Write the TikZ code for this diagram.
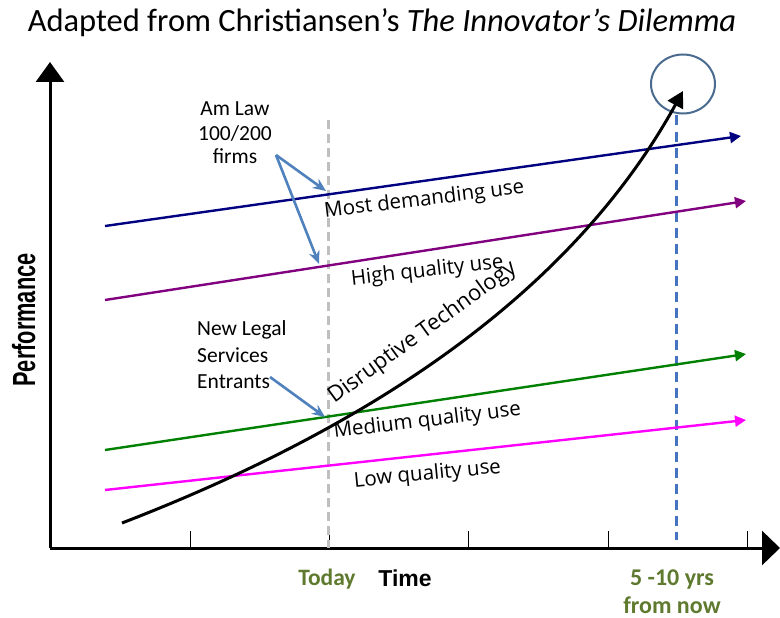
\documentclass[tikz,border=0pt]{standalone}
\usepackage{fontspec}
\setmainfont{Carlito}
\newfontfamily\lblfont{Open Sans}
\newfontfamily\arialfont{Liberation Sans}
\usetikzlibrary{arrows.meta,shapes.geometric}
\definecolor{arrblue}{HTML}{4F81BD}
\definecolor{dashblue}{HTML}{4573BF}
\definecolor{circblue}{HTML}{4A6A90}
\definecolor{olive}{HTML}{5F7A2F}
\definecolor{dgray}{HTML}{BFBFBF}
\begin{document}
\begin{tikzpicture}[x=1pt,y=-1pt,
  useline/.style={line width=2.4pt,-{Triangle[length=11pt,width=11pt]}},
  uselabel/.style={font=\lblfont\fontsize{20.5}{22}\selectfont,anchor=base,inner sep=0pt},
  callout/.style={draw=arrblue,line width=2.6pt,-{Stealth[length=13pt,width=11pt]}},
  calltext/.style={font=\fontsize{21.5}{24}\selectfont,anchor=base,inner sep=0pt},
  axis/.style={line width=3pt},
  tick/.style={line width=1pt},
  xlab/.style={font=\bfseries\fontsize{24}{26}\selectfont,text=olive,anchor=base,inner sep=0pt}
]
\useasboundingbox (0,0) rectangle (780,618);
% title
\node[anchor=base,inner sep=0pt] (title) at (382,32) {\fontsize{32.5}{34}\selectfont Adapted from Christiansen's \textit{The Innovator's Dilemma}};
% axes
\coordinate (O) at (50,548);
\coordinate (ytop) at (50,62);
\coordinate (xend) at (780,548);
\draw[axis,-{Triangle[length=20pt,width=28pt]}] (O) -- (ytop);
\draw[axis,-{Triangle[length=18pt,width=34pt]}] (O) -- (xend);
\foreach \x in {190,329,468,608,747}{
  \draw[tick] (\x,548) -- (\x,531);
}
% vertical dashed lines
\coordinate (today1) at (328,120);
\coordinate (today0) at (328,548);
\draw[dgray,line width=3pt,dash pattern=on 9pt off 5pt] (today1) -- (today0);
% circle
\node[draw=circblue,line width=2pt,ellipse,minimum width=64pt,minimum height=59pt,inner sep=0pt] (circ) at (683,84) {};
\coordinate (fut0) at (676,540);
\draw[dashblue,line width=3pt,dash pattern=on 10pt off 6pt] (circ.south) ++(-7,1) coordinate (fut1) -- (fut0);
% use lines
\coordinate (n0) at (105,226); \coordinate (n1) at (741,136);
\coordinate (p0) at (105,300); \coordinate (p1) at (746,201);
\coordinate (g0) at (105,450); \coordinate (g1) at (746,354);
\coordinate (m0) at (105,490); \coordinate (m1) at (746,420);
\draw[useline,color={rgb,255:red,0;green,0;blue,128}] (n0) -- (n1);
\draw[useline,color={rgb,255:red,128;green,0;blue,128}] (p0) -- (p1);
\draw[useline,color={rgb,255:red,0;green,128;blue,0}] (g0) -- (g1);
\draw[useline,color={rgb,255:red,255;green,0;blue,255}] (m0) -- (m1);
% labels on lines
\node[uselabel,rotate=7] (lmost) at (425,205.5) {Most demanding use};
\node[uselabel,rotate=6.4] (lhigh) at (428,276.5) {High quality use};
\node[uselabel,rotate=7] (lmed) at (428,426.5) {Medium quality use};
\node[uselabel,rotate=5.5] (llow) at (428,480) {Low quality use};
% disruptive curve
\coordinate (d0) at (122,523);
\coordinate (d1) at (683,91);
\draw[line width=3pt,-{Triangle[length=16pt,width=17pt]}] (d0) .. controls (350,435) and (565,305) .. (d1);
\node[uselabel,font=\lblfont\fontsize{22}{24}\selectfont,rotate=36] (ldis) at (426,337.5) {Disruptive Technology};
% callouts
\node[calltext] (amlaw1) at (235,115) {Am Law};
\node[calltext] (amlaw2) at (235,140) {100/200};
\node[calltext] (amlaw3) at (235,164) {firms};
\coordinate (aml) at (276,155);
\coordinate (amt1) at (326,191);
\coordinate (amt2) at (319,264);
\draw[callout] (aml) -- (amt1);
\draw[callout] (aml) -- (amt2);
\node[calltext,anchor=base west] (nls1) at (197,335) {New Legal};
\node[calltext,anchor=base west] (nls2) at (197,362) {Services};
\node[calltext,anchor=base west] (nls3) at (197,388) {Entrants};
\coordinate (nlsa) at (270,377);
\coordinate (nlst) at (325,417);
\draw[callout] (nlsa) -- (nlst);
% axis labels
\node[rotate=90,anchor=base,inner sep=0pt] (perf) at (35,320) {\scalebox{0.68}[1]{\arialfont\bfseries\fontsize{32}{34}\selectfont Performance}};
\node[xlab] (today) at (327,585) {\fontsize{23.5}{25}\selectfont Today};
\node[anchor=base,inner sep=0pt,font=\arialfont\bfseries\fontsize{23}{25}\selectfont] (time) at (405,586) {Time};
\node[xlab] (future1) at (672,585) {5 -10 yrs};
\node[xlab] (future2) at (672,613) {from now};
\end{tikzpicture}
\end{document}
